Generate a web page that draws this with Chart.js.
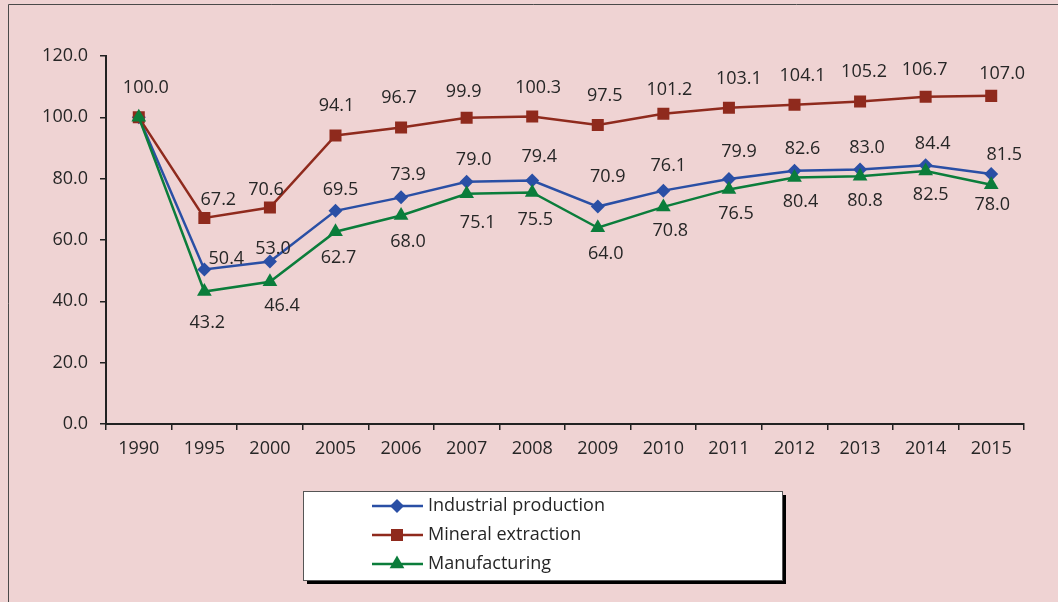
<!DOCTYPE html>
<html>
<head>
<meta charset="utf-8">
<title>Industrial production index</title>
<script src="https://cdn.jsdelivr.net/npm/chart.js@4.4.0/dist/chart.umd.min.js"></script>
<style>
  html, body { margin: 0; padding: 0; background: #EFD3D3; }
</style>
</head>
<body>
<canvas id="indexChart" width="1058" height="602"></canvas>
<script>
// values (1990 = 100)
const years = ['1990', '1995', '2000', '2005', '2006', '2007', '2008', '2009', '2010', '2011', '2012', '2013', '2014', '2015'];
const industrial = [100.0, 50.4, 53.0, 69.5, 73.9, 79.0, 79.4, 70.9, 76.1, 79.9, 82.6, 83.0, 84.4, 81.5];
const mineral = [100.0, 67.2, 70.6, 94.1, 96.7, 99.9, 100.3, 97.5, 101.2, 103.1, 104.1, 105.2, 106.7, 107.0];
const manufacturing = [100.0, 43.2, 46.4, 62.7, 68.0, 75.1, 75.5, 64.0, 70.8, 76.5, 80.4, 80.8, 82.5, 78.0];
const seriesNames = ['Industrial production', 'Mineral extraction', 'Manufacturing'];
const yMin = 0, yMax = 120, yStep = 20;

const BLUE = '#2A4FA5', RED = '#8F2A1D', GREEN = '#0B7D3B';
const TEXT = '#262626';

Chart.defaults.font.family = "'Open Sans', sans-serif";
Chart.defaults.font.size = 18;
Chart.defaults.color = TEXT;

// label nudges [dx, dy] from each point, null = not shown (overlapping at 1990)
const labelShift = [
  [null, [22, -11], [3, -13], [5, -21], [7, -22], [7, -22], [7, -24], [10, -30], [5, -25], [10, -27], [8, -22], [7, -22], [7, -21], [13, -19]],
  [[7, -29], [14, -18], [-4, -18], [1, -30], [-2, -30], [-3, -26], [6, -29], [7, -29], [6, -24], [10, -29], [8, -29], [4, -30], [-1, -27], [11, -22]],
  [null, [3, 31], [12, 24], [3, 26], [7, 26], [11, 29], [3, 27], [8, 26], [7, 24], [7, 24], [6, 24], [5, 25], [5, 24], [1, 20]]
];

const frame = {
  id: 'frame',
  beforeDraw(chart) {
    const c = chart.ctx;
    c.save();
    c.fillStyle = '#EFD3D3';
    c.fillRect(0, 0, chart.width, chart.height);
    c.strokeStyle = '#4a4a4a';
    c.lineWidth = 1;
    c.beginPath();
    c.moveTo(8.5, chart.height + 5);
    c.lineTo(8.5, 4.5);
    c.lineTo(chart.width + 5, 4.5);
    c.stroke();
    c.restore();
  }
};

const valueLabels = {
  id: 'valueLabels',
  afterDatasetsDraw(chart) {
    const c = chart.ctx;
    c.save();
    c.font = "18px 'Open Sans', sans-serif";
    c.fillStyle = TEXT;
    c.textAlign = 'center';
    c.textBaseline = 'middle';
    chart.data.datasets.forEach((ds, di) => {
      const meta = chart.getDatasetMeta(di);
      meta.data.forEach((pt, i) => {
        const s = labelShift[di][i];
        if (!s) return;
        c.fillText(ds.data[i].toFixed(1), pt.x + s[0], pt.y + s[1]);
      });
    });
    c.restore();
  }
};

function marker(c, style, x, y, r) {
  c.beginPath();
  if (style === 'rectRot') {
    c.moveTo(x - r, y); c.lineTo(x, y - r); c.lineTo(x + r, y); c.lineTo(x, y + r);
  } else if (style === 'rect') {
    const h = r * Math.SQRT1_2;
    c.rect(x - h, y - h, 2 * h, 2 * h);
  } else {
    c.moveTo(x, y - r);
    c.lineTo(x + r * Math.sin(2 * Math.PI / 3), y + r / 2);
    c.lineTo(x - r * Math.sin(2 * Math.PI / 3), y + r / 2);
  }
  c.closePath();
  c.fill();
}

const boxLegend = {
  id: 'boxLegend',
  afterDraw(chart) {
    const c = chart.ctx;
    const bx = 303, by = 491, bw = 479, bh = 89;
    c.save();
    c.fillStyle = '#000';
    c.fillRect(bx + 4, by + 4, bw, bh);
    c.fillStyle = '#fff';
    c.fillRect(bx, by, bw, bh);
    c.strokeStyle = '#555';
    c.lineWidth = 1;
    c.strokeRect(bx + 0.5, by + 0.5, bw, bh);
    c.font = "18px 'Open Sans', sans-serif";
    c.textBaseline = 'middle';
    c.textAlign = 'left';
    const legendOrder = [0, 1, 2];
    legendOrder.forEach((di, row) => {
      const ds = chart.data.datasets[di];
      const y = by + 15 + row * 29;
      c.strokeStyle = ds.borderColor;
      c.lineWidth = 2.5;
      c.beginPath();
      c.moveTo(372, y);
      c.lineTo(423, y);
      c.stroke();
      c.fillStyle = ds.pointBackgroundColor;
      marker(c, ds.pointStyle, 397, y, ds.pointRadius);
      c.fillStyle = TEXT;
      c.fillText(ds.label, 428, y);
    });
    c.restore();
  }
};

new Chart(document.getElementById('indexChart'), {
  type: 'line',
  data: {
    labels: years,
    datasets: [
      {
        label: seriesNames[0], data: industrial, order: 2,
        borderColor: BLUE, backgroundColor: BLUE, pointBackgroundColor: BLUE, pointBorderColor: BLUE,
        borderWidth: 2.5, pointStyle: 'rectRot', pointRadius: 7, pointBorderWidth: 0, tension: 0
      },
      {
        label: seriesNames[1], data: mineral, order: 1,
        borderColor: RED, backgroundColor: RED, pointBackgroundColor: RED, pointBorderColor: RED,
        borderWidth: 2.5, pointStyle: 'rect', pointRadius: 8.5, pointBorderWidth: 0, tension: 0
      },
      {
        label: seriesNames[2], data: manufacturing, order: 0,
        borderColor: GREEN, backgroundColor: GREEN, pointBackgroundColor: GREEN, pointBorderColor: GREEN,
        borderWidth: 2.5, pointStyle: 'triangle', pointRadius: 8.5, pointBorderWidth: 0, tension: 0
      }
    ]
  },
  options: {
    responsive: false,
    animation: false,
    layout: { padding: { top: 56, right: 34, bottom: 0, left: 0 } },
    plugins: {
      legend: { display: false },
      tooltip: { enabled: false }
    },
    scales: {
      x: {
        offset: true,
        grid: { offset: true, drawOnChartArea: false, drawTicks: true, tickLength: 6, color: '#222', lineWidth: 1.5 },
        border: { color: '#222', width: 2 },
        ticks: { padding: 8, color: TEXT, maxRotation: 0, autoSkip: false },
        afterFit(scale) { scale.height = 178; }
      },
      y: {
        min: yMin, max: yMax,
        grid: { drawOnChartArea: false, drawTicks: true, tickLength: 6, color: '#222', lineWidth: 1.5 },
        border: { color: '#222', width: 2 },
        ticks: { stepSize: yStep, padding: 12, color: TEXT, callback: v => v.toFixed(1) },
        afterFit(scale) { scale.width = 106; }
      }
    }
  },
  plugins: [frame, valueLabels, boxLegend]
});
</script>
</body>
</html>
